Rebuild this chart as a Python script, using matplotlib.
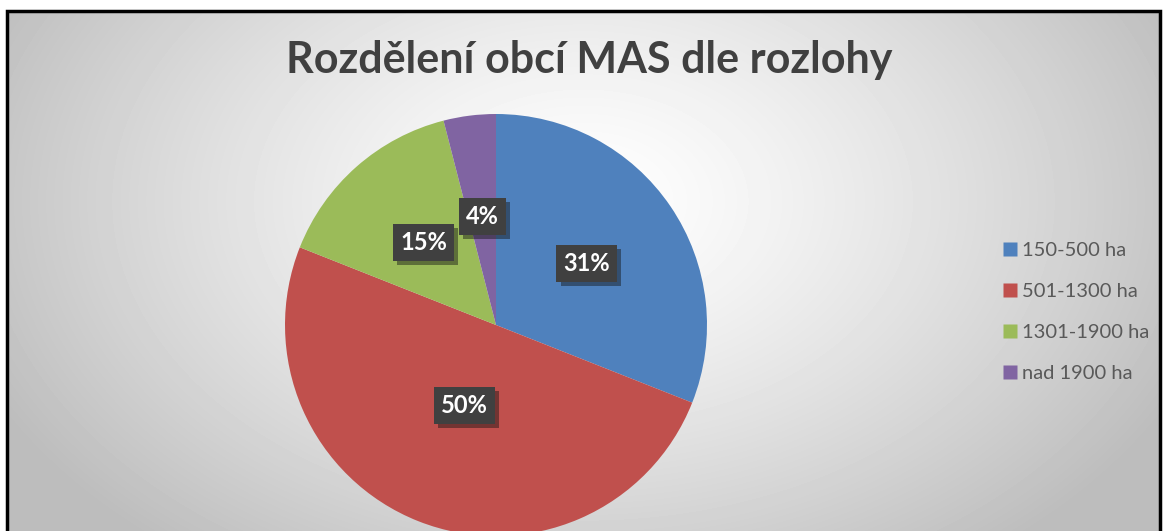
import numpy as np
import matplotlib.pyplot as plt
import matplotlib.patheffects as pe
from matplotlib.lines import Line2D
from matplotlib.patches import Rectangle

TITLE = 'Rozdělení obcí MAS dle rozlohy'
categories = ['150-500 ha', '501-1300 ha', '1301-1900 ha', 'nad 1900 ha']
shares = [31, 50, 15, 4]
colors = ['#4F81BD', '#C0504D', '#9BBB59', '#8064A2']
label_dist = [0.52, 0.41, 0.52, 0.52]

W, H = 1163, 531
plt.rcParams['font.family'] = ['Lato', 'DejaVu Sans']

fig = plt.figure(figsize=(W / 100, H / 100), dpi=100)
fig.patch.set_facecolor('white')

# chart area background: radial grey gradient
bg = fig.add_axes([7 / W, 0, (1160 - 7) / W, 1 - 11 / H])
yy, xx = np.mgrid[0:520, 0:1153]
r = np.sqrt(((xx - 576) / 620.0) ** 2 + ((yy - 190) / 420.0) ** 2)
shade = np.clip(1.0 - 0.24 * r ** 1.3, 0.74, 1.0)
bg.imshow(shade, cmap='gray', vmin=0, vmax=1, aspect='auto',
          extent=[0, 1, 0, 1], interpolation='bilinear')
bg.set_axis_off()

# frame
fig.patches.append(Rectangle((7 / W, -0.05), (1160 - 7) / W, 1.05 - 11 / H,
                             transform=fig.transFigure, fill=False,
                             ec='black', lw=2.5))

fig.text(589 / W, 1 - 60 / H, TITLE, ha='center', va='center',
         fontsize=31, fontweight='bold', color='#404040')

# pie
R = 211
ax = fig.add_axes([(496 - R) / W, (H - 325 - R) / H, 2 * R / W, 2 * R / H])
wedges, _ = ax.pie(shares, colors=colors, startangle=90, counterclock=False,
                   radius=1, wedgeprops=dict(edgecolor='none'))
ax.set_xlim(-1, 1)
ax.set_ylim(-1, 1)
ax.set_aspect('equal')
ax.set_axis_off()

for w, v, d in zip(wedges, shares, label_dist):
    ang = np.deg2rad((w.theta1 + w.theta2) / 2)
    t = ax.text(d * np.cos(ang), d * np.sin(ang), f'{v}%', ha='center',
                va='center', fontsize=17, fontweight='bold', color='white',
                bbox=dict(boxstyle='square,pad=0.3', fc='#404040', ec='none'))
    t.get_bbox_patch().set_path_effects(
        [pe.SimplePatchShadow(offset=(3, -3), alpha=0.45), pe.Normal()])

handles = [Line2D([], [], ls='none', marker='s', markersize=10,
                  markerfacecolor=c, markeredgecolor='none') for c in colors]
fig.legend(handles, categories, loc='center left',
           bbox_to_anchor=(985 / W, 1 - 312 / H), frameon=False,
           fontsize=14.5, labelcolor='#595959', labelspacing=1.2,
           handlelength=0.7, handletextpad=0.25)

fig.savefig('out.png', dpi=100)
